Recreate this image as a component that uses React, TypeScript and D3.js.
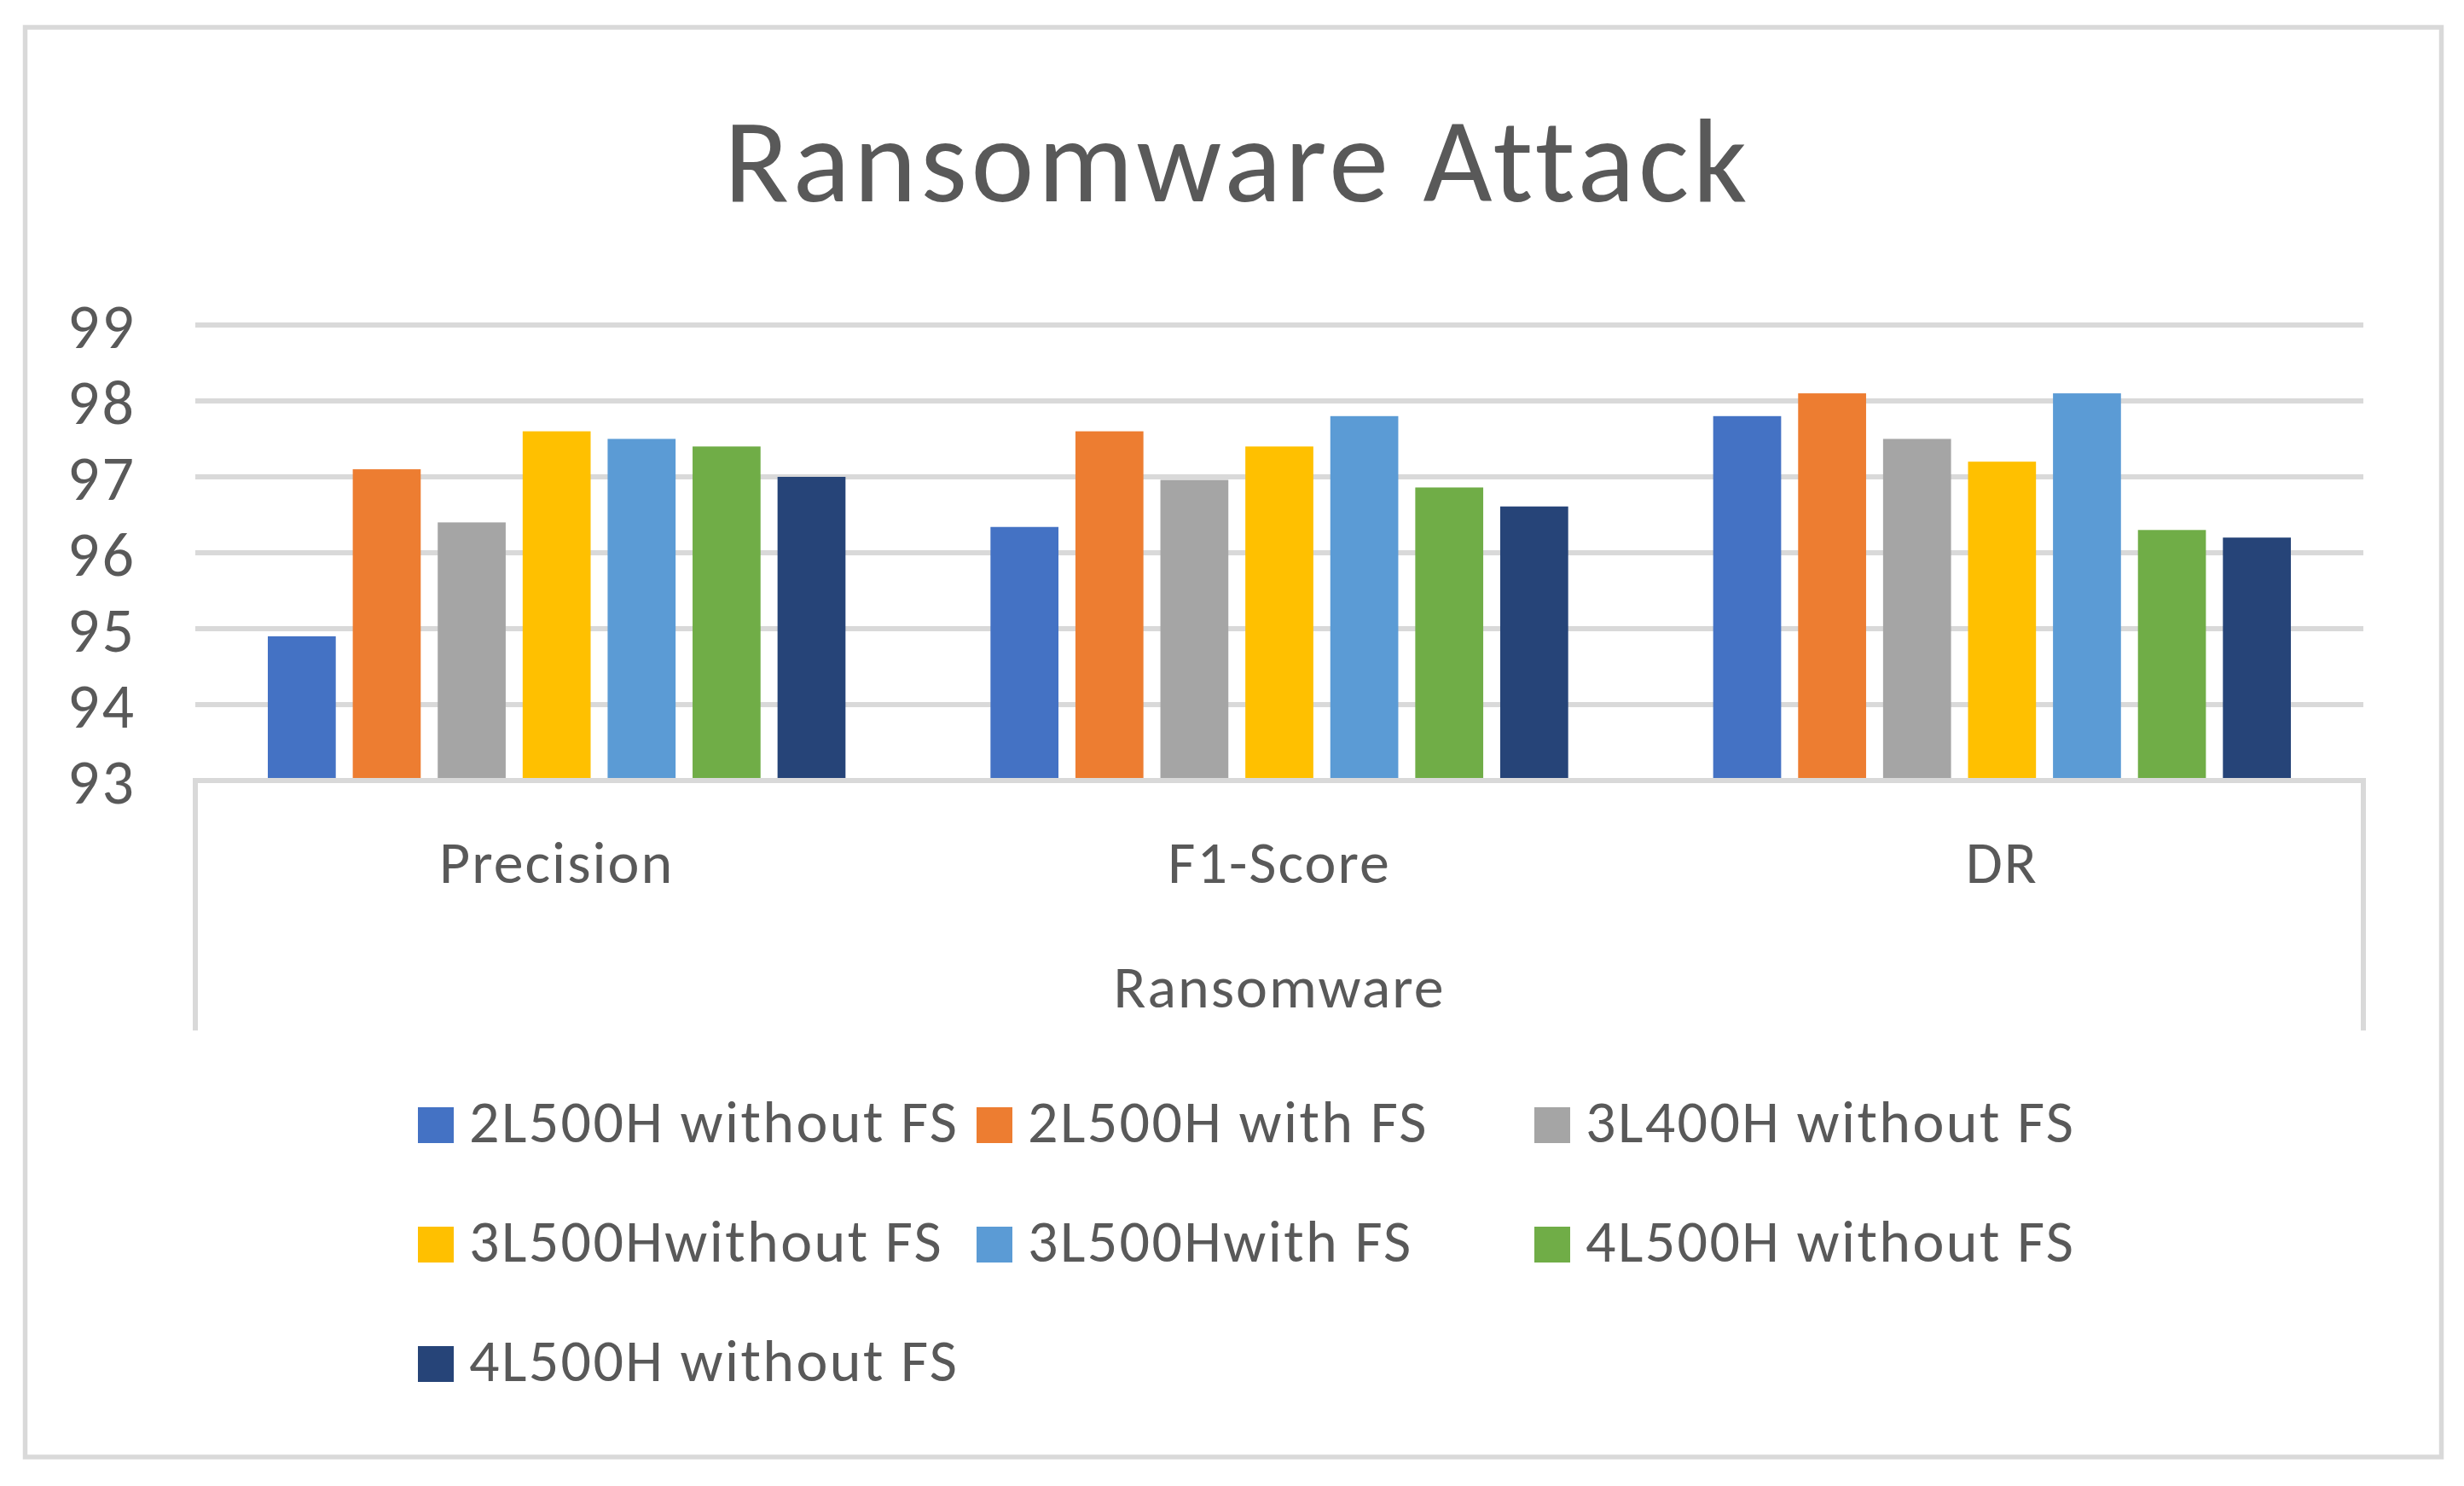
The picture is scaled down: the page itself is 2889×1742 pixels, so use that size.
import React, { useEffect, useRef } from 'react';
import * as d3 from 'd3';

// chart values
const categories = ['Precision', 'F1-Score', 'DR'];
const seriesNames = [
  '2L500H without FS',
  '2L500H with FS',
  '3L400H without FS',
  '3L500Hwithout FS',
  '3L500Hwith FS',
  '4L500H without FS',
  '4L500H without FS ',
];
const seriesColors = ['#4472C4', '#ED7D31', '#A5A5A5', '#FFC000', '#5B9BD5', '#70AD47', '#264478'];
const precisionValues = [94.9, 97.1, 96.4, 97.6, 97.5, 97.4, 97.0];
const f1Values = [96.34, 97.6, 96.96, 97.4, 97.8, 96.86, 96.61];
const drValues = [97.8, 98.1, 97.5, 97.2, 98.1, 96.3, 96.2];
const yTicks = [93, 94, 95, 96, 97, 98, 99];
const chartTitle = 'Ransomware Attack';
const axisTitle = 'Ransomware';

const FONT = "Carlito, Calibri, Lato, 'Open Sans', sans-serif";
const TEXT = '#595959';
const LINE = '#D9D9D9';

/* RansomwareChart: grouped bar chart drawn with d3 into an svg ref */
function RansomwareChart({ width, height }) {
  const ref = useRef(null);
  const plot = { left: 229, right: 2771, top: 381, bottom: 915 };

  useEffect(() => {
    const svg = d3.select(ref.current);
    svg.selectAll('*').remove();
    svg.attr('width', width).attr('height', height);

    const rows = [precisionValues, f1Values, drValues];
    const data = categories.map((c, i) => ({ cat: c, values: rows[i] }));

    svg.append('rect').attr('width', width).attr('height', height).attr('fill', '#fff');

    // outer chart border
    svg.append('rect')
      .attr('x', 29.5).attr('y', 32).attr('width', 2833).attr('height', 1676)
      .attr('fill', 'none').attr('stroke', LINE).attr('stroke-width', 5.5);

    // title
    svg.append('text')
      .attr('x', 1451).attr('y', 236)
      .attr('text-anchor', 'middle')
      .style('font-family', FONT).style('font-size', '140px').style('letter-spacing', '4.5px')
      .attr('fill', TEXT).text(chartTitle);

    const x0 = d3.scaleBand().domain(categories).range([plot.left, plot.right]);
    const x1 = d3.scaleBand().domain(seriesNames.map((d, i) => i))
      .range([85, x0.bandwidth() - 85]).paddingInner(0.2);
    const y = d3.scaleLinear().domain([93, 99]).range([plot.bottom, plot.top]);

    // gridlines
    svg.append('g').selectAll('line').data(yTicks).enter()
      .append('line')
      .attr('x1', plot.left).attr('x2', plot.right)
      .attr('y1', d => y(d)).attr('y2', d => y(d))
      .attr('stroke', LINE).attr('stroke-width', 6);

    // y tick labels
    svg.append('g').selectAll('text').data(yTicks).enter()
      .append('text')
      .attr('x', 160).attr('y', d => y(d))
      .attr('dy', '0.36em')
      .attr('text-anchor', 'end')
      .style('font-family', FONT).style('font-size', '74px').style('letter-spacing', '3px')
      .attr('fill', TEXT).text(d => d);

    // category box lines
    [plot.left, plot.right].forEach(xv => {
      svg.append('line')
        .attr('x1', xv).attr('x2', xv)
        .attr('y1', plot.bottom - 3).attr('y2', 1208)
        .attr('stroke', LINE).attr('stroke-width', 6);
    });

    // bars
    const groups = svg.append('g').selectAll('g').data(data).enter()
      .append('g')
      .attr('transform', d => `translate(${x0(d.cat)},0)`);
    groups.selectAll('rect').data(d => d.values).enter()
      .append('rect')
      .attr('x', (d, i) => x1(i))
      .attr('y', d => y(d))
      .attr('width', x1.bandwidth())
      .attr('height', d => y(93) - 3 - y(d))
      .attr('fill', (d, i) => seriesColors[i]);

    // category labels
    svg.append('g').selectAll('text').data(categories).enter()
      .append('text')
      .attr('x', d => x0(d) + x0.bandwidth() / 2).attr('y', 1035)
      .attr('text-anchor', 'middle')
      .style('font-family', FONT).style('font-size', '70px').style('letter-spacing', '2px')
      .attr('fill', TEXT).text(d => d);

    svg.append('text')
      .attr('x', (plot.left + plot.right) / 2).attr('y', 1181)
      .attr('text-anchor', 'middle')
      .style('font-family', FONT).style('font-size', '70px').style('letter-spacing', '2px')
      .attr('fill', TEXT).text(axisTitle);

    // legend
    const colX = [490, 1145, 1799];
    const rowY = [1298, 1438, 1578];
    const legend = svg.append('g').selectAll('g').data(seriesNames).enter()
      .append('g')
      .attr('transform', (d, i) => `translate(${colX[i % 3]},${rowY[Math.floor(i / 3)]})`);
    legend.append('rect')
      .attr('width', 42).attr('height', 42)
      .attr('fill', (d, i) => seriesColors[i]);
    legend.append('text')
      .attr('x', 60).attr('y', 41)
      .style('font-family', FONT).style('font-size', '70px').style('letter-spacing', '2.4px')
      .attr('fill', TEXT).text(d => d.trim());
  }, [width, height]);

  return (
    <svg ref={ref} style={{ position: 'absolute', left: 0, top: 0, display: 'block' }} />
  );
}

export default function App() {
  return <RansomwareChart width={2889} height={1742} />;
}
